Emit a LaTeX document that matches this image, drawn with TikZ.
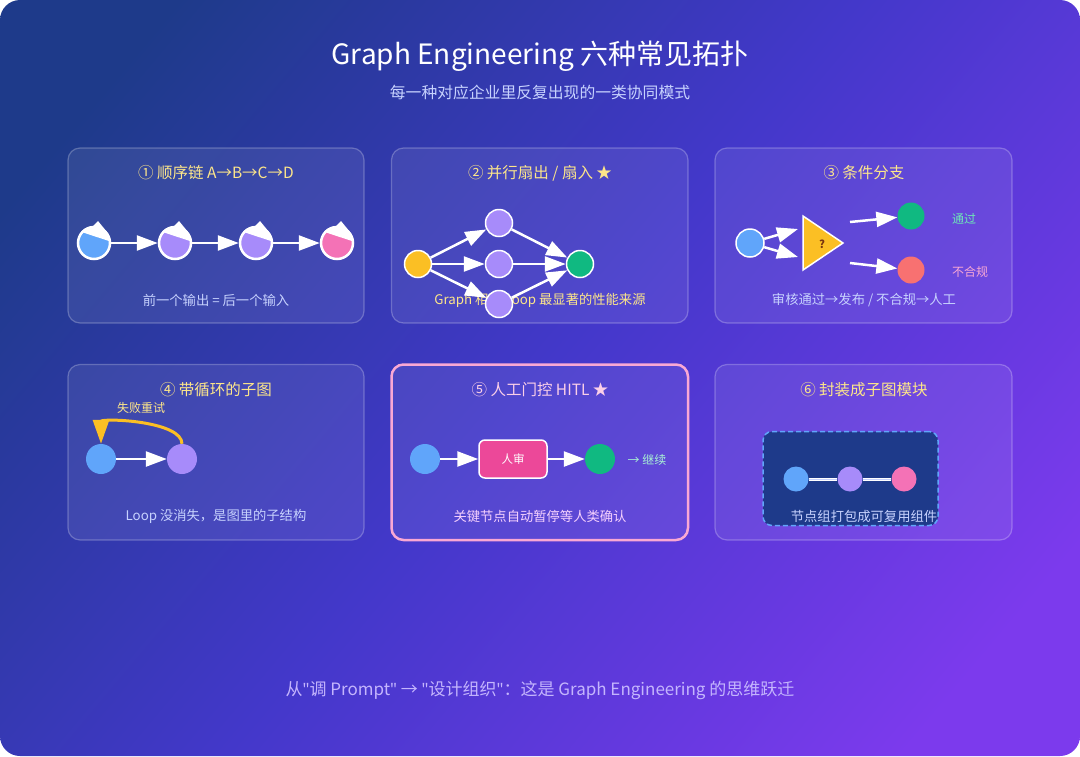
\documentclass[tikz,border=0pt]{standalone}
\usepackage{fontspec}
\setmainfont{Noto Sans CJK SC}
\newfontfamily\latin{Noto Sans}
\usetikzlibrary{arrows.meta,calc}

\definecolor{bgA}{HTML}{1E3A8A}
\definecolor{bgB}{HTML}{4338CA}
\definecolor{bgC}{HTML}{7C3AED}
\definecolor{nblue}{HTML}{60A5FA}
\definecolor{npurple}{HTML}{A78BFA}
\definecolor{npink}{HTML}{F472B6}
\definecolor{nyellow}{HTML}{FBBF24}
\definecolor{ngreen}{HTML}{10B981}
\definecolor{nred}{HTML}{F87171}
\definecolor{nrose}{HTML}{EC4899}
\definecolor{gold}{HTML}{FDE68A}
\definecolor{lav}{HTML}{C7D2FE}
\definecolor{lavb}{HTML}{C4B5FD}
\definecolor{pinkl}{HTML}{FBCFE8}
\definecolor{fuchl}{HTML}{F5D0FE}
\definecolor{mint}{HTML}{6EE7B7}
\definecolor{hotpk}{HTML}{F9A8D4}
\definecolor{brown}{HTML}{78350F}

\pgfdeclarehorizontalshading{bgshade}{100bp}{color(0bp)=(bgA); color(22bp)=(bgA); color(50bp)=(bgB); color(78bp)=(bgC); color(100bp)=(bgC)}

% white wedge on top of the chain dots
\newcommand\drop[1]{%
  \begin{scope}
    \clip (#1) circle (17pt);
    \fill[white] ($(#1)+(-18,-12.8)$) -- ($(#1)+(18,-1)$) -- ($(#1)+(18,-20)$) -- ($(#1)+(-18,-20)$) -- cycle;
  \end{scope}
  \fill[white] ($(#1)+(-3,-15)$) -- ($(#1)+(4,-22)$) -- ($(#1)+(13,-11)$) -- cycle;}

\begin{document}
\begin{tikzpicture}[x=1pt,y=-1pt,
   panel/.style={draw=white,draw opacity=0.25,fill=white,fill opacity=0.08,rounded corners=12pt,line width=1.2pt},
   ptitle/.style={text=gold,font=\fontsize{15.5}{18}\selectfont},
   pcap/.style={text=lav,font=\fontsize{13.3}{16}\selectfont},
   small/.style={font=\fontsize{12}{14}\selectfont},
   dot/.style={circle,inner sep=0pt,minimum size=30pt},
   arr/.style={draw=white,line width=2.5pt,-{Triangle[length=21pt,width=15pt]}},
   link/.style={draw=white,line width=1pt,double=lav,double distance=1pt}]

% background
\fill[white] (0,0) rectangle (1080,756);
\shade[shading=bgshade,shading angle=-40,rounded corners=20pt] (0,0) rectangle (1080,756);

\node[text=white,font=\fontsize{28}{33}\selectfont] (title) at (540,56) {Graph Engineering 六种常见拓扑};
\node[text=lav,font=\fontsize{15.8}{18}\selectfont] (sub) at (540,92) {每一种对应企业里反复出现的一类协同模式};

% panels
\draw[panel] (68,148) rectangle (364,323);
\draw[panel] (391.5,148) rectangle (688,323);
\draw[panel] (715,148) rectangle (1012,323);
\draw[panel] (68,364.5) rectangle (364,540);
\draw[panel,draw=hotpk,draw opacity=1,line width=2.5pt] (391.5,364.5) rectangle (688,540);
\draw[panel] (715,364.5) rectangle (1012,540);

% 1 chain
\node[ptitle] (t1) at (216,173) {① 顺序链 A→B→C→D};
\node[dot,minimum size=32pt,fill=nblue,draw=white,line width=2.5pt] (a1) at (94,243) {};
\node[dot,minimum size=32pt,fill=npurple,draw=white,line width=2.5pt] (a2) at (175,243) {};
\node[dot,minimum size=32pt,fill=npurple,draw=white,line width=2.5pt] (a3) at (256,243) {};
\node[dot,minimum size=32pt,fill=npink,draw=white,line width=2.5pt] (a4) at (337,243) {};
\draw[arr] (a1) -- (a2);
\draw[arr] (a2) -- (a3);
\draw[arr] (a3) -- (a4);
\drop{a1}\drop{a2}\drop{a3}\drop{a4}
\node[pcap] (c1) at (216,300) {前一个输出 = 后一个输入};

% 2 fan out / fan in
\node[ptitle] (t2) at (540,173) {② 并行扇出 / 扇入 ★};
\node[pcap,text=gold] (c2) at (540,300) {Graph 相对 Loop 最显著的性能来源};
\node[dot,minimum size=27pt,fill=nyellow,draw=white,line width=1.5pt] (f0) at (418,264) {};
\node[dot,minimum size=27pt,fill=npurple,draw=white,line width=1.5pt] (f1) at (499,223) {};
\node[dot,minimum size=27pt,fill=npurple,draw=white,line width=1.5pt] (f2) at (499,264) {};
\node[dot,minimum size=27pt,fill=npurple,draw=white,line width=1.5pt] (f3) at (499,304) {};
\node[dot,minimum size=27pt,fill=ngreen,draw=white,line width=1.5pt] (f4) at (580,264) {};
\draw[arr] (f0) -- (f1);
\draw[arr] (f0) -- (f2);
\draw[arr] (f0) -- (f3);
\draw[arr] (f1) -- (f4);
\draw[arr] (f2) -- (f4);
\draw[arr] (f3) -- (f4);

% 3 branch
\node[ptitle] (t3) at (864,173) {③ 条件分支};
\node[dot,minimum size=28pt,fill=nblue,draw=white,line width=1.5pt] (b0) at (750,243) {};
\draw[fill=nyellow,draw=white,line width=1.5pt] (803,216) -- (843,243) -- (803,270) -- cycle;
\node[text=brown,font=\bfseries\fontsize{11}{13}\selectfont] (q) at (822,244) {?};
\coordinate (q1) at (798,229);
\coordinate (q2) at (798,257);
\coordinate (q3) at (850,222);
\coordinate (q4) at (850,263);
\node[dot,minimum size=27pt,fill=ngreen] (b1) at (911,216) {};
\node[dot,minimum size=27pt,fill=nred] (b2) at (911,270) {};
\draw[arr] (b0) -- (q1);
\draw[arr] (b0) -- (q2);
\draw[arr] (q3) -- (b1);
\draw[arr] (q4) -- (b2);
\node[small,text=mint] (ok) at (964,219) {通过};
\node[small,text=hotpk] (no) at (970,272) {不合规};
\node[pcap] (c3) at (864,300) {审核通过→发布 / 不合规→人工};

% 4 loop
\node[ptitle] (t4) at (216,390) {④ 带循环的子图};
\node[dot,fill=nblue] (l1) at (101,459) {};
\node[dot,fill=npurple] (l2) at (182,459) {};
\draw[arr] (l1) -- (l2);
\draw[nyellow,line width=3pt,-{Triangle[length=24pt,width=16pt]}] (l2.north) .. controls (182,422) and (110,418) .. (101,421) -- (l1.north);
\node[small,text=gold] (retry) at (141,408) {失败重试};
\node[pcap] (c4) at (216,516) {Loop 没消失，是图里的子结构};

% 5 human in the loop
\node[ptitle,text=pinkl] (t5) at (540,390) {⑤ 人工门控 HITL ★};
\node[dot,fill=nblue] (h1) at (425,459) {};
\node[fill=nrose,draw=white,line width=1.5pt,rounded corners=6pt,minimum width=68pt,minimum height=38pt,
      text=white,font=\fontsize{11.5}{14}\selectfont] (hr) at (513,459) {人审};
\node[dot,fill=ngreen] (h2) at (600,459) {};
\draw[arr] (h1) -- (hr);
\draw[arr] (hr) -- (h2);
\node[small,text=mint!60!white] (go) at (647,460) {→ 继续};
\node[pcap,text=fuchl] (c5) at (540,516) {关键节点自动暂停等人类确认};

% 6 subgraph module
\node[ptitle] (t6) at (864,390) {⑥ 封装成子图模块};
\node[fill=bgA,draw=nblue,line width=1.5pt,dash pattern=on 5pt off 3pt,rounded corners=9pt,
      minimum width=175pt,minimum height=94pt] (box) at (850.5,478.5) {};
\node[dot,minimum size=25pt,fill=nblue] (s1) at (796,479) {};
\node[dot,minimum size=25pt,fill=npurple] (s2) at (850,479) {};
\node[dot,minimum size=25pt,fill=npink] (s3) at (904,479) {};
\draw[link] (s1) -- (s2);
\draw[link] (s2) -- (s3);
\node[pcap] (c6) at (864,516) {节点组打包成可复用组件};

\node[text=lavb,font=\fontsize{17}{20}\selectfont] (foot) at (540,690) {从{\latin "}调 Prompt{\latin "} → {\latin "}设计组织{\latin "}：这是 Graph Engineering 的思维跃迁};
\end{tikzpicture}
\end{document}
